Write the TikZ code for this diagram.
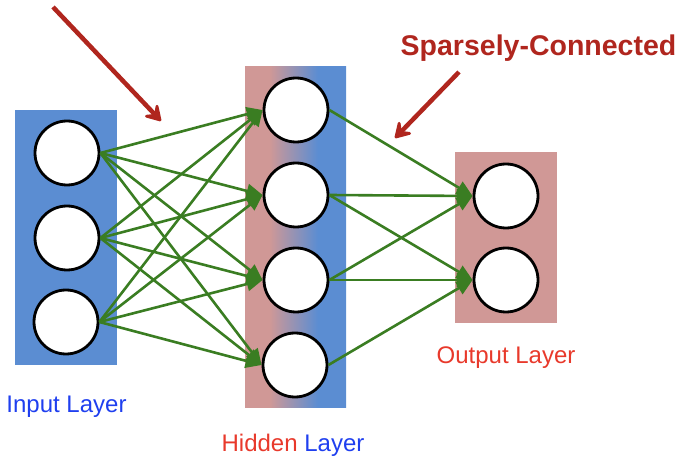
\documentclass[tikz,border=0pt]{standalone}
\usepackage{fontspec}
\setmainfont{Liberation Sans}
\usetikzlibrary{arrows.meta}

\definecolor{layerblue}{HTML}{5B8DD2}
\definecolor{layerpink}{HTML}{D09896}
\definecolor{linkgreen}{HTML}{3A7D22}
\definecolor{notered}{HTML}{B0261E}
\definecolor{textblue}{HTML}{1F3FEF}
\definecolor{textred}{HTML}{E8392B}

% pink on the left, blue on the right
\pgfdeclarehorizontalshading{hiddenfade}{100bp}{color(0bp)=(layerpink); color(37bp)=(layerpink); color(61bp)=(layerblue); color(100bp)=(layerblue)}

\begin{document}
\begin{tikzpicture}[
    x=1pt, y=-1pt,
    layer/.style={
        rectangle,
        inner sep=0pt,
        minimum width=102pt
    },
    unit/.style={
        circle,
        draw,
        line width=2.8pt,
        fill=white,
        minimum size=64pt,
        inner sep=0pt
    },
    link/.style={
        draw=linkgreen,
        line width=2.6pt,
        -{Triangle[length=16pt, width=14pt]}
    },
    note/.style={
        draw=notered,
        line width=4.5pt,
        -{Stealth[length=20pt, width=24pt, inset=9pt, round]}
    },
    label/.style={
        anchor=base,
        font=\fontsize{24}{28}\selectfont
    }
]

\useasboundingbox (0,0) rectangle (681,457);

% Layer boxes

\node[layer, fill=layerblue, minimum height=255pt] (inbox) at (66,237.5) {};
\node[layer, shade, shading=hiddenfade, minimum width=101pt, minimum height=341pt] (hidbox) at (295.5,237.5) {};
\node[layer, fill=layerpink, minimum height=171pt] (outbox) at (506,237.5) {};

% Units

\node[unit] (in1) at (67,153) {};
\node[unit] (in2) at (67,238) {};
\node[unit] (in3) at (66,322) {};

\node[unit] (hid1) at (296,110) {};
\node[unit] (hid2) at (296,195) {};
\node[unit] (hid3) at (296,280) {};
\node[unit] (hid4) at (295,365) {};

\node[unit] (out1) at (506,196) {};
\node[unit] (out2) at (506,280) {};

% Input -> hidden, every pair

\foreach \i in {1,2,3}
    \foreach \h in {1,...,4}
        \draw[link] (in\i.east) -- (hid\h.west);

% Hidden -> output, only some pairs

\draw[link] (hid1.east) -- (out1.west);
\draw[link] (hid2.east) -- (out1.west);
\draw[link] (hid2.east) -- (out2.west);
\draw[link] (hid3.east) -- (out1.west);
\draw[link] (hid3.east) -- (out2.west);
\draw[link] (hid4.east) -- (out2.west);

% Labels

\node[label, text=textblue] (inlabel) at (66.5,413) {Input Layer};
\node[label] (hidlabel) at (293,451) {\textcolor{textred}{Hidden} \textcolor{textblue}{Layer}};
\node[label, text=textred] (outlabel) at (506,364) {Output Layer};
\node[label, text=notered, font=\fontsize{28.5}{32}\selectfont\bfseries] (sparse) at (538.5,56) {Sparsely-Connected};

% Pointers

\coordinate (fulltail) at (53,7);
\coordinate (fulltip) at (161,121);
\coordinate (sparsetail) at (459,72);
\coordinate (sparsetip) at (395,138);

\draw[note] (fulltail) -- (fulltip);
\draw[note] (sparsetail) -- (sparsetip);

\end{tikzpicture}
\end{document}
